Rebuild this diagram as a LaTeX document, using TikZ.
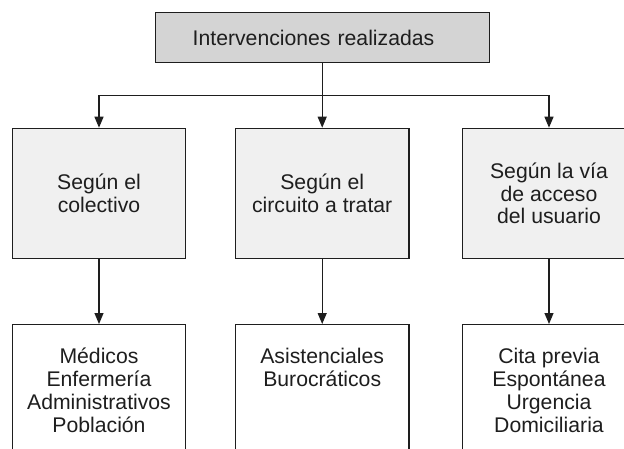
\documentclass[tikz,border=0pt]{standalone}
\usepackage{fontspec}
\setmainfont{Liberation Sans}
\usetikzlibrary{arrows.meta,calc}
\definecolor{topfill}{RGB}{212,212,212}
\definecolor{midfill}{RGB}{240,240,240}
\definecolor{linec}{RGB}{30,30,30}
\begin{document}
\begin{tikzpicture}[x=1pt,y=-1pt,
  txt/.style={font=\fontsize{21.2}{22.8}\selectfont, text=linec},
  box/.style={draw=linec, line width=1.2pt, inner sep=0pt, minimum width=173.4pt, align=center, txt},
  topbox/.style={box, fill=topfill, minimum height=49.6pt, text width=259pt, align=left, inner xsep=37.4pt},
  midbox/.style={box, fill=midfill, minimum height=130pt},
  lowbox/.style={box, fill=white, minimum height=170pt, anchor=north},
  listtext/.style={txt, align=center, inner sep=0pt, anchor=north},
  conn/.style={draw=linec, line width=1.2pt},
  arr/.style={conn, -{Triangle[width=9pt,length=11pt]}}]
\useasboundingbox (0,0) rectangle (624,449);
\clip (0,0) rectangle (624,449);
\fill[white] (0,0) rectangle (624,449);

\node[topbox] (top) at (322.2,37.5) {Intervenciones realizadas};

\node[midbox] (m1) at (99,193.3) {Según el\\colectivo};
\node[midbox] (m2) at (322.2,193.3) {Según el\\circuito a tratar};
\node[midbox] (m3) at (549,193.3) {Según la vía\\de acceso\\del usuario};

\node[lowbox] (b1) at (99,324) {};
\node[lowbox] (b2) at (322.2,324) {};
\node[lowbox] (b3) at (549,324) {};

\node[listtext] (t1) at ($(b1.north)+(0,19.5)$) {\rule{0pt}{20pt}Médicos\\Enfermería\\Administrativos\\Población};
\node[listtext] (t2) at ($(b2.north)+(0,19.5)$) {\rule{0pt}{20pt}Asistenciales\\Burocráticos};
\node[listtext] (t3) at ($(b3.north)+(0,19.5)$) {\rule{0pt}{20pt}Cita previa\\Espontánea\\Urgencia\\Domiciliaria};

\coordinate (j) at (322.2,95.7);
\draw[conn] (top.south) -- (j);
\draw[arr] (j) -| (m1.north);
\draw[arr] (j) -- (m2.north);
\draw[arr] (j) -| (m3.north);

\draw[arr] (m1.south) -- (b1.north);
\draw[arr] (m2.south) -- (b2.north);
\draw[arr] (m3.south) -- (b3.north);
\end{tikzpicture}
\end{document}
